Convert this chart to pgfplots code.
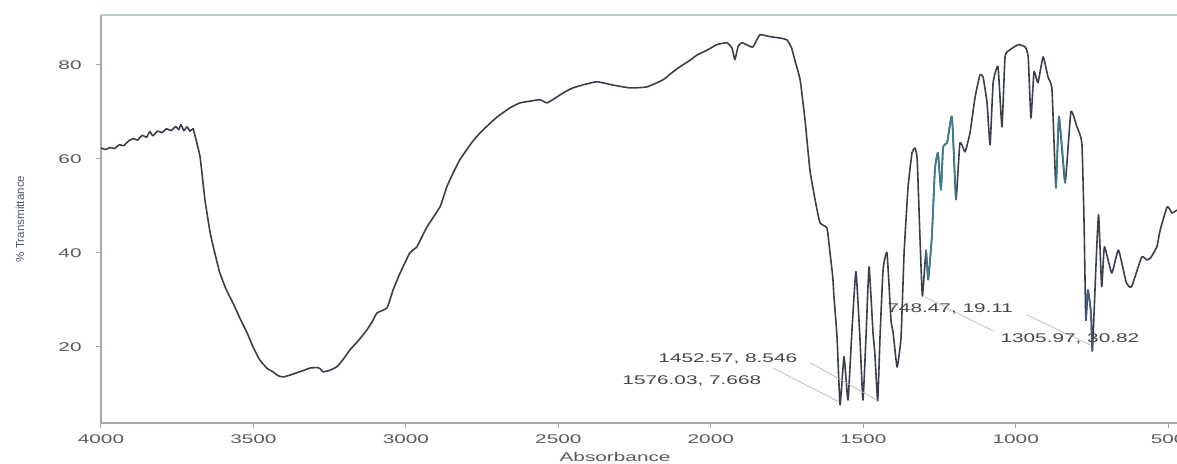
\documentclass[border=0pt]{standalone}
\usepackage{pgfplots}
\pgfplotsset{compat=1.18}
\usepackage{pgfplotstable}
\usepackage{fontspec}
\setmainfont{Liberation Sans}
\newfontfamily\widefont[FakeStretch=1.65]{Liberation Sans}
\definecolor{curve}{HTML}{3A3F4C}
\definecolor{teal1}{HTML}{3C7C92}
\definecolor{blue1}{HTML}{3B5E8C}
\definecolor{purp1}{HTML}{5A4A7A}
\definecolor{tickc}{HTML}{5A5A5A}
\definecolor{axc}{HTML}{A4A8B4}
\definecolor{topc}{HTML}{B6CFC4}
\definecolor{ylab}{HTML}{4B5876}
\definecolor{lead}{HTML}{B8B8B8}

\pgfplotstableread{
w v
4000 62.3
3985 62.0
3970 62.4
3955 62.2
3940 63.0
3925 62.8
3910 63.8
3895 64.3
3880 64.0
3865 65.0
3850 64.6
3840 65.8
3830 64.9
3815 65.9
3800 65.6
3785 66.4
3770 66.0
3755 66.9
3745 66.2
3738 67.3
3728 66.0
3718 66.8
3708 65.9
3698 66.4
3690 64.5
3675 60.4
3659 51.3
3642 44.3
3625 39.5
3610 35.7
3590 32.3
3567 29.3
3545 26.2
3521 23.0
3500 19.8
3479 17.2
3455 15.4
3436 14.7
3420 13.9
3403 13.6
3380 14.0
3357 14.5
3335 15.0
3314 15.5
3290 15.6
3282 15.4
3272 14.7
3250 15.0
3226 15.8
3205 17.4
3183 19.4
3155 21.4
3128 23.6
3110 25.4
3095 27.2
3062 28.3
3042 32.1
3019 35.7
2987 40.0
2964 41.3
2931 45.5
2888 49.8
2866 54.0
2845 57.0
2823 59.8
2800 62.0
2780 63.8
2757 65.5
2730 67.2
2701 68.9
2660 70.8
2626 71.9
2590 72.3
2560 72.6
2537 71.9
2504 73.2
2480 74.2
2452 75.1
2410 75.9
2373 76.4
2321 75.7
2265 75.1
2210 75.3
2157 76.8
2130 78.2
2101 79.6
2070 80.9
2045 82.1
2010 83.2
1980 84.3
1947 84.7
1930 83.5
1921 81.1
1910 84.0
1898 84.7
1880 84.2
1862 83.8
1839 86.4
1806 86.0
1773 85.7
1750 85.3
1735 83.6
1724 80.9
1707 76.8
1691 68.3
1675 57.7
1658 51.3
1642 46.4
1619 45.3
1609 40.0
1600 34.9
1596 30.6
1586 22.1
1576.03 7.668
1563 17.9
1550 8.7
1537 23.6
1524 36.0
1511 22.1
1501 8.7
1491 22.1
1481 37.0
1468 23.0
1462 18.7
1452.57 8.546
1445 22.1
1435 36.4
1422 40.0
1409 25.7
1402 23.0
1389 15.7
1376 22.1
1366 40.0
1353 54.0
1340 61.3
1330 62.3
1323 59.8
1314 43.4
1305.97 30.82
1294 40.6
1287 34.3
1275 43.4
1265 57.7
1255 61.3
1245 53.4
1238 62.6
1225 63.4
1209 69.0
1196 51.3
1183 63.4
1166 61.5
1150 65.5
1133 73.2
1117 77.9
1107 77.4
1094 71.9
1084 63.0
1074 76.2
1058 79.6
1045 66.8
1035 81.7
1019 83.2
991 84.3
969 83.8
959 81.7
950 68.7
940 78.5
927 76.2
910 81.7
894 77.4
881 74.7
868 53.8
858 69.0
838 54.9
819 70.0
799 66.8
783 63.4
776 47.0
770 25.7
763 32.1
753 27.2
748.47 19.11
735 40.0
728 48.1
718 32.8
709 41.3
685 35.7
663 40.6
637 33.6
620 32.8
587 39.1
570 38.5
558 38.9
537 41.3
526 44.9
503 49.8
487 48.5
471 49.1
}\spectrum

\begin{document}
\begin{tikzpicture}
\useasboundingbox (-50.5pt,-20pt) rectangle (538pt,211.5pt);
\begin{axis}[
  at={(0,0)}, anchor=south west,
  scale only axis, width=538pt, height=204pt,
  x dir=reverse, xmin=471, xmax=4000, ymin=3.8, ymax=90.6,
  axis x line*=bottom, axis y line*=left,
  axis line style={-, draw=axc, line width=0.6pt},
  xtick={4000,3500,3000,2500,2000,1500,1000,500},
  ytick={20,40,60,80},
  tick align=outside, major tick length=2.5pt,
  tick style={draw=axc, line width=0.5pt},
  /pgf/number format/assume math mode=true,
  /pgf/number format/set thousands separator={},
  ticklabel style={font=\widefont\fontsize{6.3}{7}\selectfont, text=tickc, inner sep=0pt},
  xticklabel shift=3.3pt,
  yticklabel shift=7pt,
  clip=false,
]
\addplot[curve, line width=0.8pt, line join=round, smooth, tension=0.25] table[x=w, y=v] {\spectrum};
\addplot[teal1, line width=0.8pt, line join=round, smooth, tension=0.25, restrict x to domain=1190:1300] table[x=w, y=v] {\spectrum};
\addplot[teal1, line width=0.8pt, line join=round, smooth, tension=0.25, restrict x to domain=830:880] table[x=w, y=v] {\spectrum};
\addplot[blue1, line width=0.8pt, line join=round, smooth, tension=0.25, restrict x to domain=745:775] table[x=w, y=v] {\spectrum};
\addplot[purp1, line width=0.8pt, line join=round, smooth, tension=0.25, restrict x to domain=1380:1400] table[x=w, y=v] {\spectrum};
\draw[topc, line width=0.7pt] (rel axis cs:0,1) -- (rel axis cs:1,1);
% leader lines
\draw[lead, line width=0.35pt] (axis cs:1796,15.5) -- (axis cs:1580,8.3);
\draw[lead, line width=0.35pt] (axis cs:1674,16.6) -- (axis cs:1458,8.8);
\draw[lead, line width=0.35pt] (axis cs:1074,23.4) -- (axis cs:1297,30.6);
\draw[lead, line width=0.35pt] (axis cs:963,26.8) -- (axis cs:756,20.4);
% annotations
\begin{scope}[every node/.style={inner sep=0pt, anchor=west, text=black!72, font=\widefont\fontsize{6.3}{7}\selectfont}]
\node at (axis cs:2173,17.4) {1452.57, 8.546};
\node at (axis cs:2291,12.8) {1576.03, 7.668};
\node at (axis cs:1422,28.1) {748.47, 19.11};
\node at (axis cs:1051,21.7) {1305.97, 30.82};
\end{scope}
\node[inner sep=0pt, anchor=north, text=tickc, font=\widefont\fontsize{6.3}{7}\selectfont] at ([yshift=-14.6pt]axis cs:2314,3.8) {Absorbance};
\node[inner sep=0pt, rotate=90, anchor=center, text=ylab, font=\fontsize{5.8}{7}\selectfont] at ([xshift=-40.5pt]rel axis cs:0,0.5) {\% Transmittance};
\end{axis}
\end{tikzpicture}
\end{document}
